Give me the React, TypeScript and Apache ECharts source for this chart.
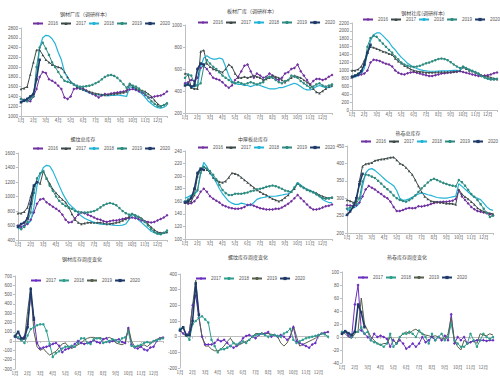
import React, { useEffect, useRef } from "react";
import * as echarts from "echarts";

const months = ["1月", "2月", "3月", "4月", "5月", "6月", "7月", "8月", "9月", "10月", "11月", "12月"];
const weekKeys = months.flatMap((m) => [m + "a", m + "b", m + "c", m + "d"]);

const titles = [
  "钢材厂库（调研样本）", "板材厂库（调研样本）", "钢材社库(调研样本)",
  "螺纹总库存", "中厚板总库存", "热卷总库存",
  "钢材库存周度变化", "螺纹库存周度变化", "热卷库存周度变化",
];

// Chart 1
const c1_2016 = [1350,1330,1310,1300,1400,1550,1800,1900,1880,1750,1720,1680,1620,1550,1380,1350,1400,1550,1560,1580,1560,1520,1480,1450,1420,1380,1420,1450,1440,1460,1470,1480,1490,1500,1520,1540,1550,1530,1500,1480,1430,1380,1380,1400,1410,1420,1450,1500];
const c1_2017 = [1550,1570,1600,1850,2100,2350,2350,2250,2150,2100,2050,2020,2000,1980,1900,1800,1700,1650,1600,1560,1540,1520,1500,1480,1460,1450,1440,1430,1440,1450,1450,1460,1470,1480,1500,1650,1600,1560,1540,1520,1500,1450,1400,1320,1250,1200,1230,1260];
const c1_2018 = [1300,1320,1350,1380,1420,1800,2400,2600,2650,2640,2580,2480,2300,2150,1900,1780,1700,1650,1600,1560,1530,1500,1470,1450,1440,1430,1420,1420,1410,1420,1420,1430,1420,1410,1400,1600,1580,1550,1500,1450,1380,1300,1250,1200,1170,1160,1180,1220];
const c1_2019 = [1350,1320,1300,1350,1400,2000,2400,2500,2380,2250,2100,2000,1900,1800,1720,1700,1680,1650,1620,1600,1600,1610,1620,1640,1670,1700,1750,1800,1830,1840,1820,1780,1720,1650,1580,1660,1620,1600,1560,1500,1450,1380,1300,1250,1200,1200,1220,1260];
const c1_2020 = [1280,1310,1350,1400,1450,1750,2150];

// Chart 2
const c2_2016 = [470,480,500,490,520,610,630,600,560,520,510,500,480,450,430,450,500,530,580,630,640,580,520,560,540,520,530,560,540,510,500,520,560,570,600,610,640,580,540,500,460,490,510,510,500,510,530,545];
const c2_2017 = [560,550,430,420,420,760,770,650,620,600,590,580,570,600,640,620,560,520,520,530,520,530,540,530,520,500,510,520,540,530,520,500,480,500,520,540,530,520,500,480,460,420,390,380,400,420,440,450];
const c2_2018 = [480,460,430,440,450,620,700,720,700,690,690,700,690,620,540,490,470,460,460,450,450,440,450,460,450,440,430,420,420,420,430,430,440,450,460,470,460,440,420,410,410,420,440,450,440,430,430,440];
const c2_2019 = [520,550,540,470,450,470,620,680,650,620,600,570,540,520,500,480,470,480,470,460,470,480,470,460,470,480,520,530,520,500,480,470,490,500,540,530,520,490,470,450,430,440,460,470,450,440,450,460];
const c2_2020 = [450,460,440,450,600,650,640];

// Chart 3
const c3_2016 = [850,870,880,900,920,1000,1200,1270,1260,1240,1200,1170,1150,1100,1000,940,910,900,930,950,960,940,920,900,880,860,860,880,900,920,930,940,950,960,970,980,960,940,920,900,880,860,860,870,880,900,930,950];
const c3_2017 = [1000,1000,1030,1100,1250,1450,1600,1580,1550,1520,1480,1460,1420,1400,1300,1230,1180,1120,1080,1030,1000,980,970,960,950,950,950,955,960,960,960,960,960,970,980,1000,1080,1040,1000,980,950,920,880,860,850,820,800,780];
const c3_2018 = [820,840,870,920,1050,1450,1750,1900,1950,1950,1880,1800,1720,1600,1520,1420,1330,1260,1180,1130,1080,1050,1020,1000,990,980,980,980,985,990,990,990,995,1000,1000,990,1100,1060,1020,990,950,900,860,820,800,780,780,790];
const c3_2019 = [850,880,920,980,1150,1600,1820,1880,1850,1760,1680,1600,1520,1450,1350,1280,1200,1150,1120,1100,1090,1100,1120,1150,1180,1200,1230,1260,1290,1300,1290,1260,1210,1150,1100,1060,1100,1060,1020,990,960,920,860,820,790,770,770,790];
const c3_2020 = [830,860,900,980,1150,1450,1650];

// Chart 4
const c4_2016 = [600,580,600,620,680,780,900,960,970,920,890,860,830,800,750,680,640,650,700,750,780,770,750,730,710,690,680,660,650,660,670,670,680,690,700,700,710,700,690,670,660,650,640,650,670,690,710,740];
const c4_2017 = [770,770,790,850,1000,1150,1200,1180,1350,1250,1180,1100,1050,1000,960,920,850,760,680,640,620,630,640,640,640,640,640,630,620,625,630,640,650,670,690,720,760,740,720,700,660,620,580,540,510,500,500,510];
const c4_2018 = [550,580,600,620,660,850,1150,1300,1400,1430,1420,1350,1250,1150,1050,970,900,860,820,770,730,700,680,660,640,630,620,620,615,610,605,600,600,605,620,680,760,720,680,640,600,560,520,500,480,480,490,500];
const c4_2019 = [580,550,580,650,780,1050,1250,1320,1350,1250,1150,1080,1000,940,900,870,850,830,800,790,780,780,780,790,800,820,850,880,900,910,900,880,840,800,770,750,760,740,720,690,650,600,550,510,490,480,500,530];
const c4_2020 = [580,620,640,700,900,1150,1200];

// Chart 5
const c5_2016 = [158,156,157,160,166,175,180,175,168,164,161,158,154,152,150,149,148,148,149,151,154,155,153,151,149,148,147,147,147,148,148,150,153,156,160,165,170,165,160,155,150,147,147,148,150,152,153,155];
const c5_2017 = [158,158,160,170,200,210,215,210,205,198,194,191,190,192,198,205,204,202,198,194,190,186,182,178,175,172,170,167,164,162,160,162,166,170,175,180,188,185,182,179,177,175,173,170,168,166,165,166];
const c5_2018 = [165,167,170,172,176,205,222,215,205,198,190,180,172,166,160,157,155,155,157,156,154,153,158,163,165,166,167,168,168,168,169,170,171,172,175,182,190,186,182,179,177,175,172,168,163,160,158,158];
const c5_2019 = [160,163,168,172,178,205,215,212,208,202,195,186,178,173,170,170,172,172,172,173,174,176,177,179,180,181,183,184,185,184,182,180,177,176,175,182,188,184,181,178,176,174,171,168,165,164,165,166];
const c5_2020 = [158,160,165,180,205,212,210];

// Chart 6
const c6_2016 = [280,279,278,280,288,305,325,335,330,325,318,312,305,300,290,275,263,263,266,270,272,271,272,277,276,278,280,283,286,288,289,290,290,291,293,298,322,305,295,285,275,268,263,261,259,257,254,250];
const c6_2017 = [295,292,288,286,350,392,398,400,402,408,410,412,413,415,417,418,410,400,396,388,378,368,352,335,318,305,298,292,290,290,288,287,285,285,284,282,325,312,304,298,290,282,272,266,262,259,257,255];
const c6_2018 = [265,268,272,276,285,335,372,383,385,380,372,364,356,348,342,336,322,300,294,295,298,303,308,312,315,313,310,308,305,302,301,300,300,302,304,306,342,334,326,318,310,302,300,296,286,275,268,265];
const c6_2019 = [270,273,278,285,300,348,368,366,362,358,350,342,333,326,318,308,300,295,292,290,294,300,308,318,328,336,345,352,356,352,348,344,341,338,336,334,352,346,336,324,312,304,295,283,270,258,246,250];
const c6_2020 = [252,262,275,300,340,370];

// Chart 7
const c7_2017 = [50,30,20,50,180,500,250,-20,-80,-70,-60,-50,-30,-20,-50,-120,-90,-80,-60,-30,0,-20,-30,-20,-10,10,-10,-20,20,30,-10,0,10,20,-10,-20,140,-40,-70,-80,-60,-90,-100,-70,-60,0,30,40];
const c7_2018 = [60,40,10,-20,60,130,150,170,180,180,110,-30,-170,-130,-110,-80,-60,-60,-50,-60,-20,30,30,-20,-30,20,30,30,-20,-10,0,20,10,-10,30,40,100,-50,-60,-50,-40,-20,-10,-20,0,10,20,30];
const c7_2019 = [50,30,10,20,320,580,100,-60,-100,-80,-120,-150,-130,-110,-70,-30,-20,-60,-80,-60,-40,-20,10,30,40,40,30,40,20,30,40,20,-20,-30,-40,-20,150,0,-60,-60,-50,-40,-60,-30,0,20,30,40];
const c7_2020 = [50,100,30,30,150,560,230];

// Chart 8
const c8_2017 = [40,20,10,30,200,262,120,0,-50,-50,-50,-40,-20,-30,-20,-40,-60,-70,-60,-40,-10,5,10,0,-10,10,20,20,30,0,10,0,10,0,-20,0,60,-30,-40,-50,-60,-70,-50,-40,10,20,25,30];
const c8_2018 = [50,60,10,-20,80,100,120,130,110,90,-20,-60,-100,-80,-80,-70,-60,-40,-50,-40,-30,-40,-20,0,10,15,20,10,0,10,10,5,0,20,30,50,-20,-40,-30,-20,-10,-5,0,5,10,20,15,0];
const c8_2019 = [40,20,0,30,200,360,130,0,-60,-60,-80,-90,-90,-80,-60,-30,-10,-40,-60,-50,-40,-30,-20,0,20,20,20,20,20,15,10,0,-40,-60,-40,0,70,0,-60,-50,-40,-30,-20,-10,10,20,25,30];
const c8_2020 = [40,60,10,10,100,340,140];

// Chart 9
const c9_2017 = [5,8,2,0,50,80,10,5,0,-5,5,0,2,0,-3,-15,-5,-10,-5,-10,-18,-15,-10,-15,-10,0,-8,-5,0,-5,0,-5,2,-5,35,-10,0,-5,0,-10,-8,-6,-5,-5,-5,-6,-5,-5];
const c9_2018 = [8,8,5,0,8,8,15,5,8,-5,-8,-10,-12,-15,-10,5,-15,-10,0,5,5,8,5,0,10,5,0,-10,5,-5,0,5,-5,0,20,-5,-10,-15,-15,-10,5,-5,-15,-5,5,0,-3,0];
const c9_2019 = [8,5,0,-2,5,10,60,20,10,0,-5,-10,-12,-10,-10,0,-5,-10,0,5,8,5,10,12,8,5,3,2,0,2,0,-3,-3,5,30,-5,-15,-20,-5,-10,-8,-5,-10,5,3,2,5,3];
const c9_2020 = [5,9,6,3,8,50,38,15];

const yearsA = ["2016", "2017", "2018", "2019", "2020"];
const yearsB = ["2017", "2018", "2019", "2020"];

const styleA: Record<string, any> = {
  "2016": { color: "#7030A0", symbol: "diamond", size: 3, width: 1 },
  "2017": { color: "#3E4A4A", symbol: "triangle", size: 2.5, width: 1 },
  "2018": { color: "#22B4D6", symbol: "none", size: 0, width: 1.2 },
  "2019": { color: "#2E8B80", symbol: "circle", size: 2.5, width: 1 },
  "2020": { color: "#1F3A68", symbol: "rect", size: 2.5, width: 1.6 },
};
const styleB: Record<string, any> = {
  "2017": { color: "#6A2FC0", symbol: "diamond", size: 3, width: 1 },
  "2018": { color: "#2F9E8F", symbol: "circle", size: 2.5, width: 1 },
  "2019": { color: "#56604C", symbol: "none", size: 0, width: 1 },
  "2020": { color: "#1F3A68", symbol: "rect", size: 2.5, width: 1.6 },
};

const charts = [
  { grid: [21, 28, 146, 88], title: [85, 13], legend: [32, 21], y: [1000, 2800, 200], data: [c1_2016, c1_2017, c1_2018, c1_2019, c1_2020], row3: false },
  { grid: [185, 25, 147, 88], title: [252, 10], legend: [197, 20], y: [200, 1000, 200], data: [c2_2016, c2_2017, c2_2018, c2_2019, c2_2020], row3: false },
  { grid: [352, 23, 145, 87], title: [423, 12], legend: [362, 17], y: [0, 2200, 200], data: [c3_2016, c3_2017, c3_2018, c3_2019, c3_2020], row3: false },
  { grid: [18, 153, 149, 87], title: [83, 138], legend: [32, 146], y: [400, 1600, 200], data: [c4_2016, c4_2017, c4_2018, c4_2019, c4_2020], row3: false },
  { grid: [185, 151, 147, 88], title: [253, 138], legend: [197, 145], y: [100, 240, 20], data: [c5_2016, c5_2017, c5_2018, c5_2019, c5_2020], row3: false },
  { grid: [347, 146, 146, 87], title: [408, 132], legend: [360, 139], y: [200, 450, 50], data: [c6_2016, c6_2017, c6_2018, c6_2019, c6_2020], row3: false },
  { grid: [14, 276, 149, 93], title: [82, 258], legend: [30, 278], y: [-300, 700, 100], data: [c7_2017, c7_2018, c7_2019, c7_2020], row3: true },
  { grid: [180, 274, 148, 94], title: [248, 256], legend: [195, 276], y: [-200, 400, 100], data: [c8_2017, c8_2018, c8_2019, c8_2020], row3: true },
  { grid: [342, 272, 151, 91], title: [407, 256], legend: [357, 275], y: [-40, 100, 20], data: [c9_2017, c9_2018, c9_2019, c9_2020], row3: true },
];

const FONT = "Liberation Sans";
const CJK = "Noto Sans CJK SC";
const AXIS_COLOR = "#BFBFBF";
const LABEL_COLOR = "#595959";

export default function App() {
  const ref = useRef<HTMLDivElement>(null);
  useEffect(() => {
    if (!ref.current) return;
    const chart = echarts.init(ref.current, undefined, { renderer: "svg" });
    const grids: any[] = [];
    const xAxes: any[] = [];
    const yAxes: any[] = [];
    const legends: any[] = [];
    const series: any[] = [];
    const graphics: any[] = [];
    charts.forEach((c, k) => {
      grids.push({ left: c.grid[0], top: c.grid[1], width: c.grid[2], height: c.grid[3], containLabel: false });
      xAxes.push({
        type: "category",
        gridIndex: k,
        data: weekKeys,
        boundaryGap: false,
        axisLine: { onZero: true, lineStyle: { color: AXIS_COLOR, width: 1 } },
        axisTick: { show: true, interval: 3, length: 2, lineStyle: { color: AXIS_COLOR } },
        axisLabel: {
          interval: 0,
          fontSize: 4.5,
          fontFamily: CJK,
          color: LABEL_COLOR,
          margin: 2,
          formatter: (_v: string, idx: number) => (idx % 4 === 0 ? months[idx / 4] : ""),
        },
        splitLine: { show: false },
      });
      yAxes.push({
        type: "value",
        gridIndex: k,
        min: c.y[0],
        max: c.y[1],
        interval: c.y[2],
        axisLine: { show: true, lineStyle: { color: AXIS_COLOR, width: 1 } },
        axisTick: { show: true, length: 2, lineStyle: { color: AXIS_COLOR } },
        axisLabel: { fontSize: 4.5, fontFamily: FONT, color: LABEL_COLOR, margin: 3, formatter: (v: number) => String(v) },
        splitLine: { show: false },
      });
      const years = c.row3 ? yearsB : yearsA;
      const styles = c.row3 ? styleB : styleA;
      const suffix = c.row3 ? " " : "";
      legends.push({
        left: c.legend[0],
        top: c.legend[1],
        width: 200,
        orient: "horizontal",
        itemWidth: 10,
        itemHeight: 4,
        itemGap: 2,
        padding: 0,
        data: years.map((y) => y + suffix),
        formatter: (n: string) => n.trim(),
        textStyle: { fontSize: 4.5, fontFamily: FONT, color: LABEL_COLOR },
      });
      years.forEach((yr, j) => {
        const s = styles[yr];
        series.push({
          type: "line",
          name: yr + suffix,
          xAxisIndex: k,
          yAxisIndex: k,
          data: c.data[j],
          symbol: s.symbol,
          symbolSize: s.size,
          showSymbol: s.symbol !== "none",
          lineStyle: { color: s.color, width: s.width },
          itemStyle: { color: s.color },
          z: yr === "2020" ? 5 : 2,
        });
      });
      graphics.push({
        type: "text",
        x: c.title[0],
        y: c.title[1],
        style: {
          text: titles[k],
          textAlign: "center",
          textVerticalAlign: "middle",
          fontSize: 5,
          fontFamily: CJK,
          fill: "#404040",
        },
      });
    });
    chart.setOption({
      animation: false,
      backgroundColor: "#ffffff",
      grid: grids,
      xAxis: xAxes,
      yAxis: yAxes,
      legend: legends,
      series,
      graphic: graphics,
    });
    return () => chart.dispose();
  }, []);
  return <div ref={ref} style={{ position: "fixed", left: 0, top: 0, width: 500, height: 386 }} />;
}
